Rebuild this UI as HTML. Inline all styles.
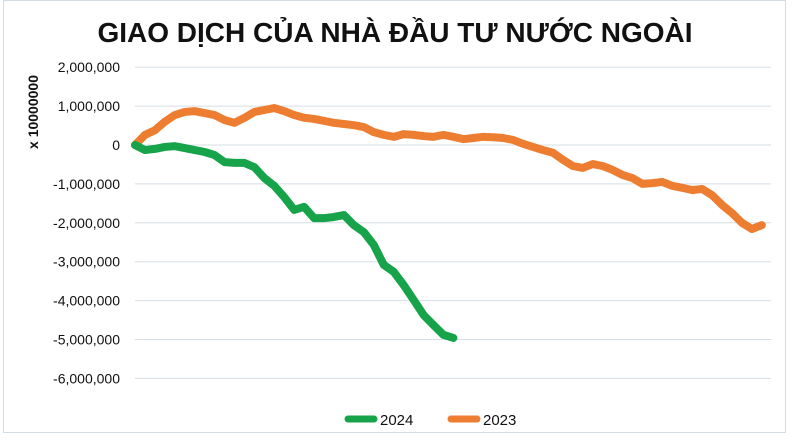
<!DOCTYPE html>
<html><head><meta charset="utf-8"><style>
body{margin:0;background:#fff;}
svg{display:block;font-family:"Liberation Sans",Arial,sans-serif;}
</style></head><body>
<svg id="chart" width="796" height="440" viewBox="0 0 796 440">
<rect x="3.5" y="0.5" width="782" height="432" fill="#fff" stroke="#d0dde6"/>
<text x="395" y="42" text-anchor="middle" font-size="28" font-weight="bold" fill="#111">GIAO DỊCH CỦA NHÀ ĐẦU TƯ NƯỚC NGOÀI</text>
<text transform="translate(38,112) rotate(-90)" text-anchor="middle" font-size="14" font-weight="bold" fill="#111">x 10000000</text>
<g id="grid"></g><g id="ylabels"></g><g id="series"></g>
<g>
<line x1="348" y1="419" x2="374" y2="419" stroke="#17a34a" stroke-width="7" stroke-linecap="round"/>
<text x="380" y="425" font-size="15" fill="#111">2024</text>
<line x1="451" y1="419" x2="477" y2="419" stroke="#ed7d31" stroke-width="7" stroke-linecap="round"/>
<text x="483" y="425" font-size="15" fill="#111">2023</text>
</g>
</svg>
<script>
const yTicks=[2000000,1000000,0,-1000000,-2000000,-3000000,-4000000,-5000000,-6000000];
const yTickLabels=["2,000,000","1,000,000","0","-1,000,000","-2,000,000","-3,000,000","-4,000,000","-5,000,000","-6,000,000"];
const series2023=[0,.26,.38,.6,.77,.85,.87,.82,.77,.64,.57,.7,.85,.9,.95,.87,.77,.7,.67,.62,.57,.54,.51,.46,.33,.26,.21,.28,.26,.23,.21,.26,.21,.15,.18,.21,.2,.18,.13,.03,-.05,-.13,-.2,-.38,-.54,-.59,-.49,-.54,-.64,-.77,-.85,-1.0,-.98,-.95,-1.05,-1.1,-1.16,-1.13,-1.29,-1.54,-1.75,-2.0,-2.16,-2.06];
const series2024=[0,-.13,-.1,-.05,-.03,-.08,-.13,-.18,-.26,-.44,-.46,-.46,-.57,-.85,-1.05,-1.34,-1.67,-1.59,-1.88,-1.88,-1.85,-1.8,-2.06,-2.24,-2.57,-3.08,-3.26,-3.6,-3.98,-4.37,-4.63,-4.88,-4.96];
const ns="http://www.w3.org/2000/svg";
const x0=135,step=9.95,xEnd=771;
function y(v){return 145-v/1000000*38.9;}
function x(i){return x0+i*step;}
const grid=document.getElementById('grid'),yl=document.getElementById('ylabels'),sg=document.getElementById('series');
yTicks.forEach((t,k)=>{
 const l=document.createElementNS(ns,'line');
 
 
 l.setAttribute('x1',x0);l.setAttribute('x2',xEnd);l.setAttribute('y1',y(t));l.setAttribute('y2',y(t));
 l.setAttribute('stroke','#d5dfe6');l.setAttribute('stroke-width','1');grid.appendChild(l);
 const tx=document.createElementNS(ns,'text');
 
 
 tx.setAttribute('x',120);tx.setAttribute('y',y(t)+5);tx.setAttribute('text-anchor','end');
 tx.setAttribute('font-size','14');tx.setAttribute('fill','#111');tx.textContent=yTickLabels[k];yl.appendChild(tx);
});
function draw(data,color,name){
 const p=document.createElementNS(ns,'polyline');
 
 
 p.setAttribute('points',data.map((v,i)=>x(i)+','+y(v*1000000)).join(' '));
 p.setAttribute('fill','none');p.setAttribute('stroke',color);p.setAttribute('stroke-width','8');
 p.setAttribute('stroke-linejoin','round');p.setAttribute('stroke-linecap','round');sg.appendChild(p);
}
draw(series2023,'#ed7d31','line-2023');
draw(series2024,'#17a34a','line-2024');
</script>
</body></html>
